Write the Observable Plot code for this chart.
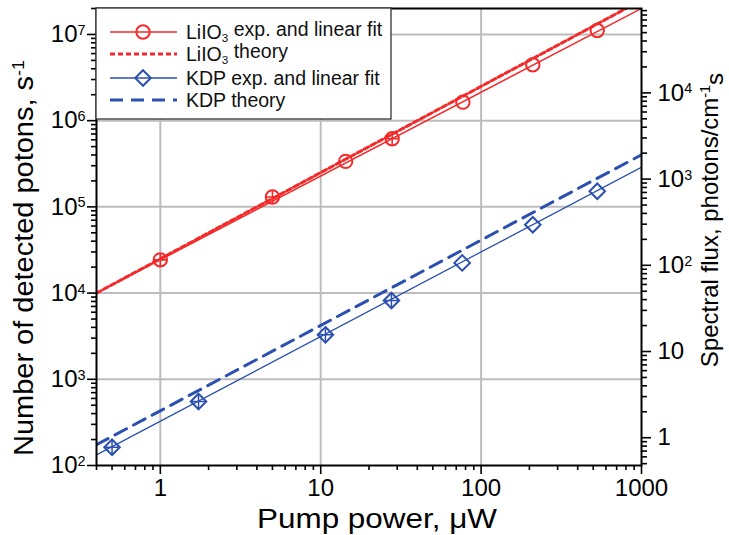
<!DOCTYPE html>
<html><head><meta charset="utf-8">
<script src="https://cdn.jsdelivr.net/npm/d3@7"></script>
<script src="https://cdn.jsdelivr.net/npm/@observablehq/plot@0.6"></script>
<style>body{margin:0;background:#fff;} svg{display:block}</style>
</head><body><div id="chart"></div>
<script>
// ---- data ----
const lioX = [1, 5, 14.3, 27.9, 77, 210, 530];
const lioY = [2.43e4, 1.3e5, 3.37e5, 6.17e5, 1.64e6, 4.45e6, 1.11e7];
const lioErr = [true, true, false, true, false, false, false];
const lioFitX = [0.4, 1000];
const lioFitY = [1.0e4, 2.0e7];
const lioTheoryX = [0.4, 800];
const lioTheoryY = [1.0e4, 2.0e7];

const kdpX = [0.5, 1.73, 10.7, 27.6, 76.2, 210, 530];
const kdpY = [163, 553, 3280, 8200, 22400, 62000, 1.52e5];
const kdpErr = [true, true, true, true, false, false, false];
const kdpFitX = [0.4, 1000];
const kdpFitY = [133, 2.88e5];
const kdpTheoryX = [0.4, 1000];
const kdpTheoryY = [174, 4.02e5];

// axes
const xMajor = [1, 10, 100, 1000];
const xMinor = [0.4,0.5,0.6,0.7,0.8,0.9, 2,3,4,5,6,7,8,9, 20,30,40,50,60,70,80,90, 200,300,400,500,600,700,800,900];
const yMajor = [1e2, 1e3, 1e4, 1e5, 1e6, 1e7];
const yMinor = [];
for (const d of [1e2,1e3,1e4,1e5,1e6,1e7]) for (let k = 2; k <= 9; k++) if (d*k <= 2e7) yMinor.push(d*k);
const rightMajor = [1, 10, 100, 1000, 10000];
const rightMinor = [0.5,0.6,0.7,0.8,0.9];
for (const d of [1,10,100,1000,10000]) for (let k = 2; k <= 9; k++) rightMinor.push(d*k);
const rightFactor = 210; // counts per unit of spectral flux

const RED = "#f42a2a", BLUE = "#2b50b0";
const FONT = "'Liberation Sans', Arial, Helvetica, sans-serif";

const pts = (xs, ys) => xs.map((x, i) => ({x, y: ys[i]}));
const lio = pts(lioX, lioY), kdp = pts(kdpX, kdpY);
const lioE = lio.filter((d, i) => lioErr[i]), kdpE = kdp.filter((d, i) => kdpErr[i]);
const powFmt = d => "10^" + Math.round(Math.log10(d));
const rightFmt = v => { const e = Math.round(Math.log10(v)); return e === 0 ? "1" : e === 1 ? "10" : "10^" + e; };

const plot = Plot.plot({
  width: 729, height: 535,
  marginLeft: 96, marginRight: 88, marginTop: 8, marginBottom: 70,
  style: {fontFamily: FONT, background: "#fff", color: "#000"},
  x: {type: "log", domain: [0.4, 1000], label: null},
  y: {type: "log", domain: [100, 2e7], label: null},
  marks: [
    Plot.ruleX([1, 10, 100], {stroke: "#bdbdbd", strokeWidth: 2}),
    Plot.ruleY([1e3, 1e4, 1e5, 1e6, 1e7], {stroke: "#bdbdbd", strokeWidth: 2}),
    Plot.line(pts(lioTheoryX, lioTheoryY), {x: "x", y: "y", stroke: RED, strokeWidth: 3, strokeDasharray: "5,3", clip: true}),
    Plot.line(pts(lioFitX, lioFitY), {x: "x", y: "y", stroke: RED, strokeWidth: 1.5, clip: true}),
    Plot.line(pts(kdpTheoryX, kdpTheoryY), {x: "x", y: "y", stroke: BLUE, strokeWidth: 3, strokeDasharray: "13,8", clip: true}),
    Plot.line(pts(kdpFitX, kdpFitY), {x: "x", y: "y", stroke: BLUE, strokeWidth: 1.3, clip: true}),
    Plot.dot(lio, {x: "x", y: "y", r: 6.7, stroke: RED, strokeWidth: 2, fill: "none"}),
    Plot.dot(lioE, {x: "x", y: "y", r: 4.2, symbol: "plus", stroke: RED, strokeWidth: 1.6}),
    Plot.dot(kdp, {x: "x", y: "y", r: 7, symbol: "diamond2", stroke: BLUE, strokeWidth: 2, fill: "none"}),
    Plot.dot(kdpE, {x: "x", y: "y", r: 4.5, symbol: "plus", stroke: BLUE, strokeWidth: 1.5}),
    Plot.frame({stroke: "#000", strokeWidth: 2}),
    Plot.axisX(xMajor, {anchor: "bottom", tickSize: 9, tickPadding: 4, strokeWidth: 1.6, fontSize: 24, tickFormat: d => String(d)}),
    Plot.axisX(xMinor, {anchor: "bottom", tickSize: 5, strokeWidth: 1.6, tickFormat: () => ""}),
    Plot.axisY(yMajor, {anchor: "left", tickSize: 9, tickPadding: 2, strokeWidth: 1.6, fontSize: 24, tickFormat: powFmt}),
    Plot.axisY(yMinor, {anchor: "left", tickSize: 5, strokeWidth: 1.6, tickFormat: () => ""}),
    Plot.axisY(rightMajor.map(v => v * rightFactor), {anchor: "right", tickSize: 9, tickPadding: 7, strokeWidth: 1.6, fontSize: 24, tickFormat: d => rightFmt(d / rightFactor)}),
    Plot.axisY(rightMinor.map(v => v * rightFactor), {anchor: "right", tickSize: 5, strokeWidth: 1.6, tickFormat: () => ""})
  ]
});
document.getElementById("chart").appendChild(plot);

const svg = d3.select(plot);
// superscripts for tick labels
svg.selectAll("text").each(function() {
  const t = this.textContent;
  if (t.includes("^")) {
    const [b, e] = t.split("^");
    const s = d3.select(this); s.text(null);
    s.append("tspan").text(b);
    s.append("tspan").attr("dy", "-0.5em").attr("font-size", "0.6em").text(e);
  }
});

// axis titles
const g = svg.append("g").attr("font-family", FONT).attr("fill", "#000").attr("text-anchor", "middle");
g.append("text").attr("x", 377).attr("y", 528).attr("font-size", 28)
  .attr("textLength", 240).attr("lengthAdjust", "spacingAndGlyphs").text("Pump power, μW");
const lt = g.append("text").attr("transform", "translate(33,258) rotate(-90)").attr("font-size", 27)
  .attr("textLength", 396).attr("lengthAdjust", "spacingAndGlyphs");
lt.append("tspan").text("Number of detected potons, s");
lt.append("tspan").attr("dy", "-0.55em").attr("font-size", "0.62em").text("-1");
const rt = g.append("text").attr("transform", "translate(718,220) rotate(-90)").attr("font-size", 24);
rt.append("tspan").text("Spectral flux, photons/cm");
rt.append("tspan").attr("dy", "-0.55em").attr("font-size", "0.6em").text("-1");
rt.append("tspan").attr("dy", "0.55em").text("s");

// legend
const lg = svg.append("g").attr("font-family", FONT).attr("text-anchor", "start");
lg.append("rect").attr("x", 96).attr("y", 8).attr("width", 295).attr("height", 111)
  .attr("fill", "#fff").attr("stroke", "#333").attr("stroke-width", 1.3);
const rows = [
  {y: 32, color: RED, w: 1.5, dash: null, sym: "circle", label: ["LiIO", "3", " exp. and linear fit"]},
  {y: 54, color: RED, w: 3, dash: "5,3", sym: null, label: ["LiIO", "3", " theory"]},
  {y: 78, color: BLUE, w: 1.3, dash: null, sym: "diamond", label: ["KDP exp. and linear fit"]},
  {y: 100, color: BLUE, w: 3, dash: "13,8", sym: null, label: ["KDP theory"]}
];
for (const r of rows) {
  lg.append("line").attr("x1", 110).attr("x2", 177).attr("y1", r.y).attr("y2", r.y)
    .attr("stroke", r.color).attr("stroke-width", r.w).attr("stroke-dasharray", r.dash);
  if (r.sym === "circle") lg.append("circle").attr("cx", 143).attr("cy", r.y).attr("r", 6.7).attr("fill", "none").attr("stroke", r.color).attr("stroke-width", 2);
  if (r.sym === "diamond") lg.append("path").attr("transform", `translate(143,${r.y})`)
    .attr("d", d3.symbol(d3.symbolDiamond2, Math.PI * 7 * 7)()).attr("fill", "none").attr("stroke", r.color).attr("stroke-width", 2);
  const t = lg.append("text").attr("x", 186).attr("y", r.y + 6.5).attr("font-size", 19.5).attr("fill", "#111");
  if (r.label.length === 3) {
    t.append("tspan").text(r.label[0]);
    t.append("tspan").attr("dy", "0.3em").attr("font-size", "0.6em").text(r.label[1]);
    t.append("tspan").attr("dy", "-0.3em").text(r.label[2]);
  } else t.append("tspan").text(r.label[0]);
}
</script></body></html>
